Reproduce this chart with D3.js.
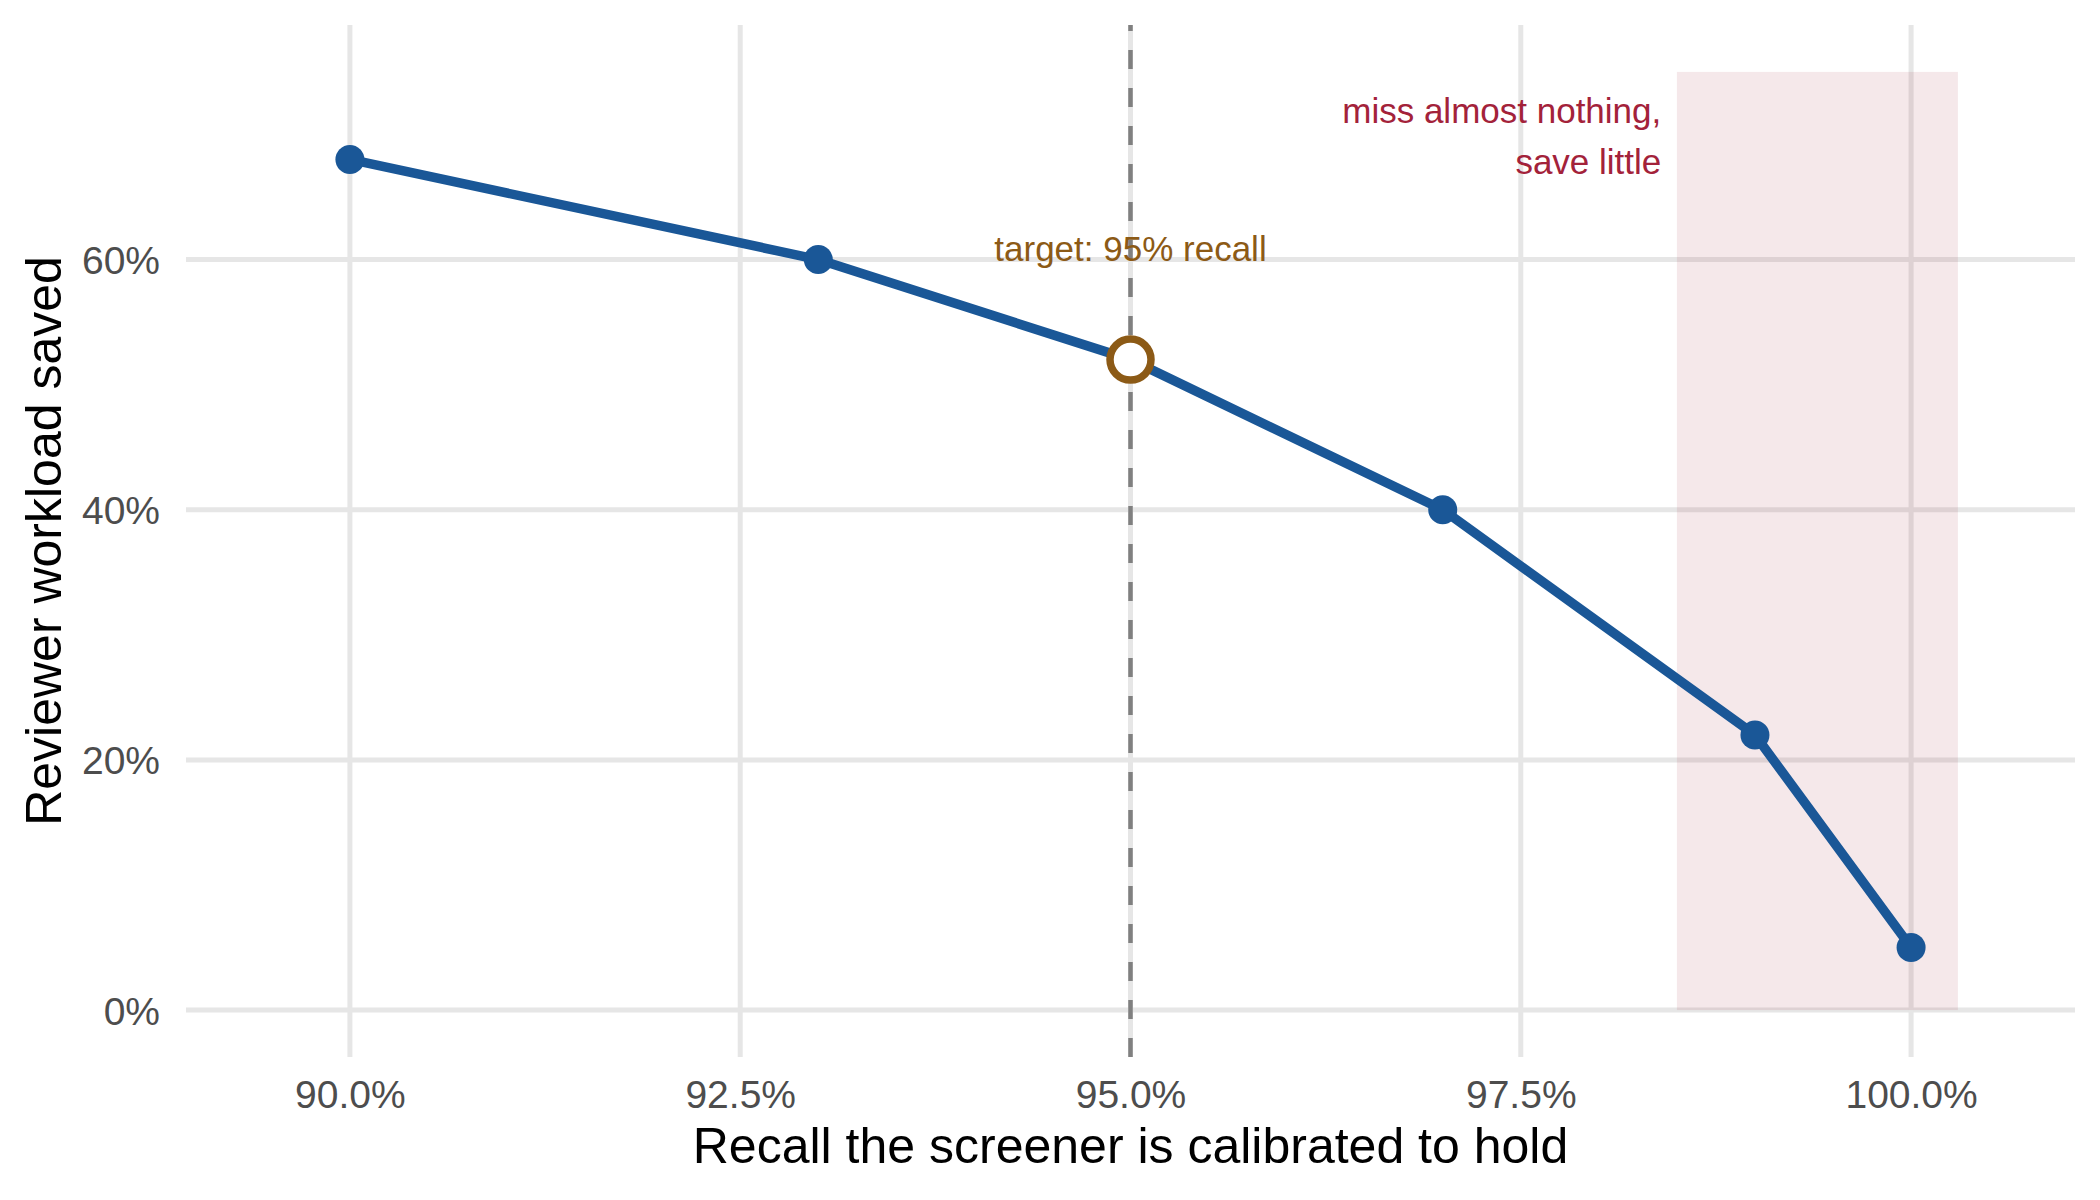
<!DOCTYPE html>
<html>
<head>
<meta charset="utf-8">
<script src="https://cdn.jsdelivr.net/npm/d3@7"></script>
<style>
  body { margin: 0; background: #fff; }
  svg text { font-family: "Liberation Sans", Arial, sans-serif; }
</style>
</head>
<body>
<svg id="chart" width="2100" height="1200"></svg>
<script>
// recall the screener holds (%) vs reviewer workload saved (%)
const recall = [90, 93, 95, 97, 99, 100];
const saved = [68, 60, 52, 40, 22, 5];
const targetRecall = 95;
const xTicks = [90, 92.5, 95, 97.5, 100];
const yTicks = [0, 20, 40, 60];
const zone = [98.5, 100.3, 0, 75]; // x0, x1, y0, y1
const zoneLabel = ['miss almost nothing,', 'save little'];
const targetLabel = 'target: 95% recall';

const svg = d3.select('#chart');

const x = d3.scaleLinear().domain([88.95, 101.05]).range([186, 2075]);
const y = d3.scaleLinear().domain([-3.75, 78.75]).range([1057, 25]);

const blue = '#1a5797';
const brown = '#8c5a16';
const crimson = '#a3223a';

// grid
{
  let g = svg.append('g');
  g.selectAll('line.h').data(yTicks).enter().append('line')
    .attr('x1', x.range()[0]).attr('x2', x.range()[1])
    .attr('y1', d => y(d)).attr('y2', d => y(d))
    .style('stroke', '#e6e6e6').style('stroke-width', 5);
  g.selectAll('line.v').data(xTicks).enter().append('line')
    .attr('y1', y.range()[0]).attr('y2', y.range()[1])
    .attr('x1', d => x(d)).attr('x2', d => x(d))
    .style('stroke', '#e6e6e6').style('stroke-width', 5);
}

// shaded zone
svg.append('rect')
  .attr('x', x(zone[0]))
  .attr('width', x(zone[1]) - x(zone[0]))
  .attr('y', y(zone[3]))
  .attr('height', y(zone[2]) - y(zone[3]))
  .style('fill', '#9b1b30')
  .style('fill-opacity', 0.1);

// target line
svg.append('line')
  .attr('x1', x(targetRecall)).attr('x2', x(targetRecall))
  .attr('y1', y.range()[0]).attr('y2', y.range()[1])
  .style('stroke', '#808080')
  .style('stroke-width', 4.5)
  .style('stroke-dasharray', '19,19');

// axes (labels only, no lines or ticks)
{
  let xa = svg.append('g')
    .attr('transform', `translate(0, ${y.range()[0]})`)
    .call(d3.axisBottom(x).tickValues(xTicks).tickSize(0).tickFormat(d => d3.format('.1f')(d) + '%'));
  xa.select('.domain').remove();
  xa.selectAll('text')
    .attr('dy', null)
    .attr('y', 51)
    .style('font-size', '39px')
    .style('fill', '#4d4d4d');

  let ya = svg.append('g')
    .attr('transform', `translate(${x.range()[0]}, 0)`)
    .call(d3.axisLeft(y).tickValues(yTicks).tickSize(0).tickFormat(d => d + '%'));
  ya.select('.domain').remove();
  ya.selectAll('text')
    .attr('x', -26)
    .attr('dy', '0.36em')
    .style('font-size', '39px')
    .style('fill', '#4d4d4d');
}

// series
const pts = recall.map((r, i) => ({r: r, s: saved[i]}));

svg.append('path')
  .datum(pts)
  .attr('d', d3.line().x(d => x(d.r)).y(d => y(d.s)))
  .style('fill', 'none')
  .style('stroke', blue)
  .style('stroke-width', 9.5)
  .style('stroke-linejoin', 'round');

svg.append('g').selectAll('circle')
  .data(pts.filter(d => d.r != targetRecall))
  .enter().append('circle')
  .attr('cx', d => x(d.r))
  .attr('cy', d => y(d.s))
  .attr('r', 14.5)
  .style('fill', blue);

svg.append('g').selectAll('circle')
  .data(pts.filter(d => d.r == targetRecall))
  .enter().append('circle')
  .attr('cx', d => x(d.r))
  .attr('cy', d => y(d.s))
  .attr('r', 20.5)
  .style('fill', '#fff')
  .style('stroke', brown)
  .style('stroke-width', 7.5);

// annotations
svg.append('text')
  .attr('x', x(targetRecall))
  .attr('y', y(60) + 1)
  .attr('text-anchor', 'middle')
  .style('font-size', '35px')
  .style('fill', brown)
  .text(targetLabel);

{
  let t = svg.append('text')
    .attr('text-anchor', 'end')
    .style('font-size', '35px')
    .style('fill', crimson);
  zoneLabel.forEach((s, i) => {
    t.append('tspan')
      .attr('x', x(98.4))
      .attr('y', y(70) - 11 + i * 51)
      .text(s);
  });
}

// axis titles
svg.append('text')
  .attr('x', (x.range()[0] + x.range()[1]) / 2)
  .attr('y', 1163)
  .attr('text-anchor', 'middle')
  .style('font-size', '50px')
  .style('fill', '#000')
  .text('Recall the screener is calibrated to hold');

svg.append('text')
  .attr('transform', `translate(61, ${(y.range()[0] + y.range()[1]) / 2}) rotate(-90)`)
  .attr('text-anchor', 'middle')
  .style('font-size', '50px')
  .style('fill', '#000')
  .text('Reviewer workload saved');
</script>
</body>
</html>
